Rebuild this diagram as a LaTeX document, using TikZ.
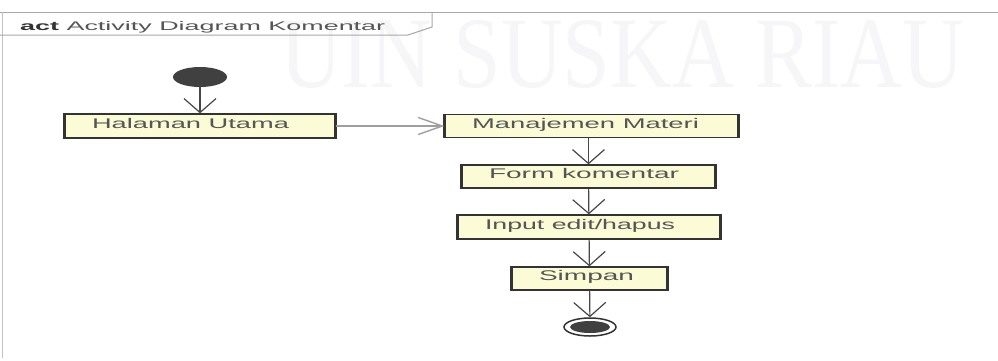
\documentclass[tikz,border=0pt]{standalone}
\usepackage{fontspec}
\usepackage{graphicx}
\setmainfont{Liberation Sans}
\newfontfamily\wmfont{Liberation Serif}
\usetikzlibrary{arrows.meta,shapes.geometric}
\definecolor{boxfill}{HTML}{FBFBD6}
\definecolor{boxline}{HTML}{333333}
\definecolor{txt}{HTML}{555555}
\definecolor{frameline}{HTML}{A8A8A8}
\definecolor{wmcol}{HTML}{F6F6F9}
\definecolor{nodefill}{HTML}{404040}
\newcommand{\btext}[3]{\raisebox{-2pt}[0pt][0pt]{\makebox[#1][l]{\hspace{27pt}\resizebox{#2}{\height}{\fontsize{14}{16}\selectfont #3}}}}
\tikzset{
  box/.style={draw=boxline, line width=1.3pt, fill=boxfill, inner sep=0pt, text=txt},
  sidebar/.style={draw=boxline, line width=3.5pt},
  flow/.style={draw=boxline!90, line width=1.2pt, -{Straight Barb[length=14pt,width=32pt,line width=1.2pt]}},
  hflow/.style={draw=gray!75, line width=1.6pt, -{Straight Barb[length=24pt,width=17pt,line width=1.4pt]}},
}
\begin{document}
\begin{tikzpicture}[x=1pt,y=-1pt]
\useasboundingbox[fill=white] (0,0) rectangle (998,360);
% watermark
\node[anchor=base west, inner sep=0pt, text=wmcol] (wm) at (280,87) {\resizebox{684pt}{67pt}{\wmfont UIN SUSKA RIAU}};
% frame
\draw[frameline, line width=1pt] (0,12) -- (998,12);
\draw[frameline!70, line width=0.8pt] (2,12) -- (2,358);
\draw[frameline, line width=1pt] (0,35) -- (408,35) -- (432,27) -- (432,12);
\node[anchor=base west, inner sep=0pt, text=txt] (title) at (20,30) {\resizebox{365pt}{\height}{\fontsize{12.5}{14}\selectfont\textcolor{boxline}{\textbf{act}} Activity Diagram Komentar}};
% initial node
\node[ellipse, fill=nodefill, minimum width=54pt, minimum height=20pt, inner sep=0pt] (start) at (200,77) {};
% actions
\node[box, minimum height=24pt] (hal) at (200,126) {\btext{270pt}{197pt}{Halaman Utama}};
\node[box, minimum height=23pt] (man) at (591.5,126) {\btext{293pt}{227pt}{Manajemen Materi}};
\node[box, minimum height=23pt] (form) at (588.5,176.5) {\btext{253pt}{190pt}{Form komentar}};
\node[box, minimum height=24pt] (input) at (589,227) {\btext{262pt}{190pt}{Input edit/hapus}};
\node[box, minimum height=23pt] (simpan) at (589.5,278.5) {\btext{155pt}{95pt}{Simpan}};
\foreach \n in {hal,man,form,input,simpan}{
  \draw[sidebar] (\n.north west) -- (\n.south west);
  \draw[sidebar] (\n.north east) -- (\n.south east);
}
% final node
\node[ellipse, draw=boxline, line width=1.5pt, fill=white, minimum width=52pt, minimum height=18pt, inner sep=0pt] (end) at (590,327) {};
\node[ellipse, fill=nodefill, minimum width=40pt, minimum height=12pt, inner sep=0pt] (endin) at (end) {};
% flows
\draw[flow] (start) -- (hal);
\draw[hflow] (hal) -- (man);
\draw[flow] (man.south -| form.north) -- (form.north);
\draw[flow] (form) -- (input);
\draw[flow] (input) -- (simpan);
\draw[flow] (simpan) -- (end);
\end{tikzpicture}
\end{document}
